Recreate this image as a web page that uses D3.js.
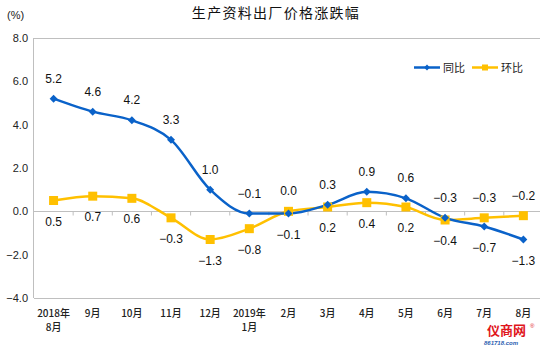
<!DOCTYPE html>
<html><head><meta charset="utf-8">
<script src="https://cdn.jsdelivr.net/npm/d3@7"></script>
<style>body{margin:0;background:#fff}svg{display:block}</style>
</head><body>
<svg id="c" width="540" height="345"></svg>
<script>
const categories = ["2018年\n8月","9月","10月","11月","12月","2019年\n1月","2月","3月","4月","5月","6月","7月","8月"];
const yoy = [5.2,4.6,4.2,3.3,1.0,-0.1,-0.1,0.3,0.9,0.6,-0.3,-0.7,-1.3];
const mom = [0.5,0.7,0.6,-0.3,-1.3,-0.8,0.0,0.2,0.4,0.2,-0.4,-0.3,-0.2];
const yTicks = [-4,-2,0,2,4,6,8];
const seriesNames = ["同比","环比"];
const colors = ["#0a62c9","#ffc000"];

const svg = d3.select("#c");
const L = 34, T = 38, B = 298, bandW = 39.15;
const x = d3.scaleBand().domain(d3.range(categories.length)).range([L, L + bandW*categories.length]);
const y = d3.scaleLinear().domain([-4, 8]).range([B, T]);
const cx = i => x(i) + x.bandwidth()/2;

// title
svg.append("text").attr("x",276).attr("y",18).attr("text-anchor","middle")
  .attr("font-family","'Noto Sans CJK SC'").attr("font-size",14).attr("letter-spacing","1.3px").attr("fill","#111")
  .text("生产资料出厂价格涨跌幅");
svg.append("text").attr("x",7).attr("y",19).attr("font-family","Liberation Sans, Arial").attr("font-size",11).attr("fill","#222").text("(%)");

// frame
const g = svg.append("g");
g.append("line").attr("x1",L).attr("x2",540).attr("y1",T+0.5).attr("y2",T+0.5).attr("stroke","#bfbfbf");
g.append("line").attr("x1",L).attr("x2",540).attr("y1",B+0.5).attr("y2",B+0.5).attr("stroke","#bfbfbf");
g.append("line").attr("x1",L-0.5).attr("x2",L-0.5).attr("y1",T).attr("y2",B).attr("stroke","#bfbfbf");

// y axis labels
const yAxis = d3.axisLeft(y).tickValues(yTicks).tickFormat(d3.format(".1f")).tickSize(0).tickPadding(6);
const ya = svg.append("g").attr("transform",`translate(${L},0)`).call(yAxis);
ya.select(".domain").remove();
ya.selectAll("text").attr("font-family","Liberation Sans, Arial").attr("font-size",11).attr("fill","#222");

// zero line with ticks
const y0 = Math.round(y(0)) + 0.5;
const xAxis = d3.axisBottom(x).tickValues(d3.range(1, categories.length)).tickSize(4).tickFormat("");
const xa = svg.append("g").attr("transform",`translate(0,${y0})`).call(xAxis);
xa.select(".domain").remove();
xa.selectAll(".tick").attr("transform", d => `translate(${x(d)},0)`);
xa.selectAll(".tick line").attr("stroke","#bfbfbf");
svg.append("line").attr("x1",L).attr("x2",540).attr("y1",y0).attr("y2",y0).attr("stroke","#bfbfbf");

// x labels
categories.forEach((c,i) => {
  const t = svg.append("text").attr("text-anchor","middle").attr("font-family","'Noto Sans CJK SC'")
    .attr("font-size",10).attr("font-weight",500).attr("fill","#222");
  c.split("\n").forEach((s,k) => t.append("tspan").attr("x",cx(i)).attr("y",317 + k*14).text(s));
});

// lines
const line = d3.line().x((d,i)=>cx(i)).y(d=>y(d)).curve(d3.curveMonotoneX);
svg.append("path").datum(mom).attr("d",line).attr("fill","none").attr("stroke",colors[1]).attr("stroke-width",2.5);
svg.append("path").datum(yoy).attr("d",line).attr("fill","none").attr("stroke",colors[0]).attr("stroke-width",2.5);

// markers
svg.append("g").selectAll("rect").data(mom).join("rect")
  .attr("x",(d,i)=>cx(i)-4.5).attr("y",d=>y(d)-4.5).attr("width",9).attr("height",9).attr("fill",colors[1]);
const diamond = d3.symbol().type(d3.symbolDiamond2).size(40);
svg.append("g").selectAll("path").data(yoy).join("path")
  .attr("transform",(d,i)=>`translate(${cx(i)},${y(d)})`).attr("d",diamond).attr("fill",colors[0]);

// data labels: higher value above, lower below
const lblFont = "Liberation Sans, Arial";
categories.forEach((c,i) => {
  const pairs = [yoy[i], mom[i]];
  const hi = pairs[0] >= pairs[1] ? 0 : 1, lo = 1 - hi;
  svg.append("text").attr("x",cx(i)).attr("y",y(pairs[hi]) - 16).attr("text-anchor","middle")
    .attr("font-family",lblFont).attr("font-size",12).attr("fill","#111").text(d3.format(".1f")(pairs[hi]));
  svg.append("text").attr("x",cx(i)).attr("y",y(pairs[lo]) + 25).attr("text-anchor","middle")
    .attr("font-family",lblFont).attr("font-size",12).attr("fill","#111").text(d3.format(".1f")(pairs[lo]));
});

// legend
const lg = svg.append("g");
const legX = [414, 472];
seriesNames.forEach((n,k) => {
  lg.append("line").attr("x1",legX[k]).attr("x2",legX[k]+26).attr("y1",67.5).attr("y2",67.5).attr("stroke",colors[k]).attr("stroke-width",2.5);
  if (k===0) lg.append("path").attr("transform",`translate(${legX[k]+13},67.5)`).attr("d",d3.symbol().type(d3.symbolDiamond2).size(22)).attr("fill",colors[k]);
  else lg.append("rect").attr("x",legX[k]+10).attr("y",64.5).attr("width",6).attr("height",6).attr("fill",colors[k]);
  lg.append("text").attr("x",legX[k]+29).attr("y",71.5).attr("font-family","'Noto Sans CJK SC'").attr("font-size",11).attr("fill","#222").text(n);
});

// watermark
svg.append("text").attr("x",487).attr("y",335).attr("font-family","'Noto Sans CJK SC'").attr("font-weight","bold")
  .attr("font-size",13).attr("fill","#e0161c").text("仪商网");
svg.append("text").attr("x",530).attr("y",328).attr("font-family","Liberation Sans").attr("font-size",6).attr("fill","#e0161c").text("®");
svg.append("text").attr("x",484).attr("y",345).attr("font-family","Liberation Sans").attr("font-style","italic").attr("font-weight","bold")
  .attr("font-size",6).attr("fill","#2a5db0").text("861718.com");
</script>
</body></html>
